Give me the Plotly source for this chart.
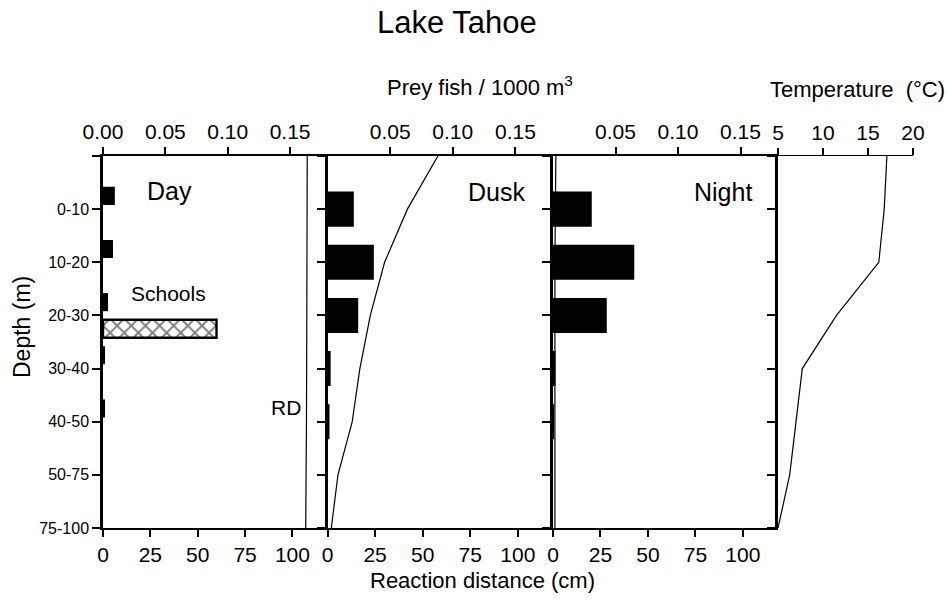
import plotly.graph_objects as go

# ---------------- data ----------------
depth_labels = ["0-10", "10-20", "20-30", "30-40", "40-50", "50-75", "75-100"]
day_prey = [0.0095, 0.008, 0.004, 0.001, 0.001, 0.0, 0.0]
day_schools = [0.0, 0.0, 0.091, 0.0, 0.0, 0.0, 0.0]
dusk_prey = [0.021, 0.037, 0.0245, 0.0025, 0.0015, 0.0, 0.0]
night_prey = [0.031, 0.065, 0.043, 0.002, 0.0005, 0.0, 0.0]
# profiles at depth nodes: surface, then each layer tick
day_rd = [107.8, 107.8, 107.7, 107.6, 107.5, 107.4, 107.2, 107.0]
dusk_rd = [58, 42, 30, 22.5, 17, 13, 5.5, 2]
night_rd = [1.5, 1.2, 1.0, 1.0, 1.0, 1.0, 1.0, 1.0]
temperature = [17.1, 16.8, 16.2, 11.5, 7.7, 7.0, 6.3, 5.0]

prey_ticks = [0.0, 0.05, 0.10, 0.15]
prey_ticktext = ["0.00", "0.05", "0.10", "0.15"]
rd_ticks = [0, 25, 50, 75, 100]
temp_ticks = [5, 10, 15, 20]

bar_pos = list(range(1, len(depth_labels) + 1))
node_pos = list(range(0, len(depth_labels) + 1))

def nonzero(vals):
    pairs = [(v, p) for v, p in zip(vals, bar_pos) if v > 0]
    return [v for v, _ in pairs], [p for _, p in pairs]

# ---------------- layout geometry ----------------
W, H = 950, 601
L, R, T, B = 103, 37, 156, 73
PW, PH = W - L - R, H - T - B
def px2x(px):
    return (px - L) / PW
def px2y(py):
    return (H - B - py) / PH

d1, d2, d3 = px2x(327.5), px2x(553), px2x(778)
FONT = "Liberation Sans, Arial, sans-serif"

fig = go.Figure()

line_style = dict(color="black", width=1.2)

# RD lines (bottom axes)
fig.add_trace(go.Scatter(x=day_rd, y=node_pos, mode="lines", line=line_style,
                         xaxis="x", yaxis="y", showlegend=False))
fig.add_trace(go.Scatter(x=dusk_rd, y=node_pos, mode="lines", line=line_style,
                         xaxis="x3", yaxis="y2", showlegend=False))
fig.add_trace(go.Scatter(x=night_rd, y=node_pos, mode="lines", line=line_style,
                         xaxis="x5", yaxis="y3", showlegend=False))
# Temperature
fig.add_trace(go.Scatter(x=temperature, y=node_pos, mode="lines", line=line_style,
                         xaxis="x7", yaxis="y4", showlegend=False))

# Prey bars (top axes)
dx, dy = nonzero(day_prey)
fig.add_trace(go.Bar(x=dx, y=dy, orientation="h", width=0.34, offset=-0.42,
                     marker=dict(color="black", line=dict(width=0)),
                     xaxis="x2", yaxis="y", showlegend=False))
sx, sy = nonzero(day_schools)
fig.add_trace(go.Bar(x=sx, y=sy, orientation="h", width=0.34, offset=0.08,
                     marker=dict(color="white", line=dict(color="black", width=2.4),
                                 pattern=dict(shape="x", fgcolor="black", bgcolor="white",
                                              size=10, solidity=0.35)),
                     xaxis="x2", yaxis="y", showlegend=False))
ux, uy = nonzero(dusk_prey)
fig.add_trace(go.Bar(x=ux, y=uy, orientation="h", width=0.66,
                     marker=dict(color="black", line=dict(width=0)),
                     xaxis="x4", yaxis="y2", showlegend=False))
nx, ny = nonzero(night_prey)
fig.add_trace(go.Bar(x=nx, y=ny, orientation="h", width=0.66,
                     marker=dict(color="black", line=dict(width=0)),
                     xaxis="x6", yaxis="y3", showlegend=False))

tickfont = dict(family=FONT, size=21, color="black")
common_x = dict(showgrid=False, zeroline=False, showline=True, linecolor="black",
                linewidth=2, ticks="outside", ticklen=7, tickwidth=1.5, tickcolor="black",
                tickfont=tickfont)
common_y = dict(showgrid=False, zeroline=False, showline=True, linecolor="black",
                linewidth=2.5, ticks="outside", ticklen=8, tickwidth=1.5, tickcolor="black",
                range=[len(depth_labels), 0], tickvals=node_pos)

rd_range = [0, 118.5]
prey_range = [0, 0.18]

fig.update_layout(
    width=W, height=H, margin=dict(l=L, r=R, t=T, b=B),
    paper_bgcolor="white", plot_bgcolor="white", showlegend=False,
    barmode="overlay",
    font=dict(family=FONT, color="black"),
    xaxis=dict(common_x, domain=[0, d1], range=rd_range, tickvals=rd_ticks, anchor="y", side="bottom"),
    xaxis2=dict(common_x, domain=[0, d1], range=prey_range, tickvals=prey_ticks,
                ticktext=prey_ticktext, overlaying="x", anchor="y", side="top"),
    xaxis3=dict(common_x, domain=[d1, d2], range=rd_range, tickvals=rd_ticks, anchor="y2", side="bottom"),
    xaxis4=dict(common_x, domain=[d1, d2], range=prey_range, tickvals=prey_ticks[1:],
                ticktext=prey_ticktext[1:], overlaying="x3", anchor="y2", side="top"),
    xaxis5=dict(common_x, domain=[d2, d3], range=rd_range, tickvals=rd_ticks, anchor="y3", side="bottom"),
    xaxis6=dict(common_x, domain=[d2, d3], range=prey_range, tickvals=prey_ticks[1:],
                ticktext=prey_ticktext[1:], overlaying="x5", anchor="y3", side="top"),
    xaxis7=dict(common_x, domain=[d3, 1], range=[5, 20], tickvals=temp_ticks, anchor="y4",
                side="top", linewidth=1.2),
    xaxis8=dict(domain=[d3, 1], range=[5, 20], overlaying="x7", anchor="y4", side="bottom",
                showline=True, linecolor="black", linewidth=2, showgrid=False, zeroline=False,
                ticks="", showticklabels=False),
    yaxis=dict(common_y, domain=[0, 1], anchor="x", ticktext=[" "] + depth_labels,
               tickfont=dict(family=FONT, size=16, color="black")),
    yaxis2=dict(common_y, domain=[0, 1], anchor="x3", showticklabels=False),
    yaxis3=dict(common_y, domain=[0, 1], anchor="x5", showticklabels=False),
    yaxis4=dict(common_y, domain=[0, 1], anchor="x7", showticklabels=False),
    yaxis5=dict(common_y, domain=[0, 1], anchor="x7", overlaying="y4", side="right",
                ticks="inside", linewidth=2, showticklabels=False),
)

def ann(text, px, py, size, xanchor="center", yanchor="middle", angle=0):
    fig.add_annotation(text=text, x=px2x(px), y=px2y(py), xref="paper", yref="paper",
                       xanchor=xanchor, yanchor=yanchor, showarrow=False, textangle=angle,
                       font=dict(family=FONT, size=size, color="black"))

ann("Lake Tahoe", 457, 22, 31)
ann("Prey fish / 1000 m<sup>3</sup>", 480, 86, 22)
ann("Temperature  (°C)", 947, 90, 22, xanchor="right")
ann("Reaction distance (cm)", 482, 580, 22)
ann("Depth (m)", 22, 327, 23, angle=-90)
ann("Day", 145, 191, 25, xanchor="left")
ann("Dusk", 527, 192, 25, xanchor="right")
ann("Night", 754, 192, 25, xanchor="right")
ann("Schools", 129, 293, 21, xanchor="left")
ann("RD", 303, 407, 21, xanchor="right")

fig.write_html("out.html")
